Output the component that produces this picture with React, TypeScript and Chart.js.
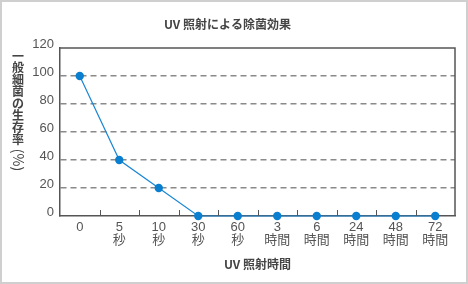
import React, { useEffect, useRef } from "react";
import { Chart, registerables } from "chart.js";

Chart.register(...registerables);

const categories: string[][] = [
  ["0"],
  ["5", "秒"],
  ["10", "秒"],
  ["30", "秒"],
  ["60", "秒"],
  ["3", "時間"],
  ["6", "時間"],
  ["24", "時間"],
  ["48", "時間"],
  ["72", "時間"],
];
const survivalRate: number[] = [100, 40, 20, 0, 0, 0, 0, 0, 0, 0];
const yTicks: number[] = [0, 20, 40, 60, 80, 100, 120];

const chartTitle = "UV 照射による除菌効果";
const xTitle = "UV 照射時間";
const yTitleUpright = "一般細菌の生存率";
const yTitleRotated = "(%)";

const FONT = "'Liberation Sans', 'Noto Sans CJK JP', sans-serif";
const CJK = "'Noto Sans CJK JP', 'Liberation Sans', sans-serif";

const decorPlugin = {
  id: "decor",
  beforeDraw(chart: any) {
    const { ctx, width, height } = chart;
    ctx.save();
    ctx.fillStyle = "#ffffff";
    ctx.fillRect(0, 0, width, height);
    ctx.strokeStyle = "#cfcfcf";
    ctx.lineWidth = 2;
    ctx.strokeRect(1, 1, width - 2, height - 2);
    ctx.restore();
  },
  afterDatasetsDraw(chart: any) {
    const { ctx, chartArea } = chart;
    const xs = chart.scales.x;
    ctx.save();
    ctx.strokeStyle = "#555555";
    ctx.lineWidth = 1.5;
    ctx.beginPath();
    ctx.moveTo(chartArea.left, chartArea.top);
    ctx.lineTo(chartArea.right, chartArea.top);
    ctx.lineTo(chartArea.right, chartArea.bottom);
    ctx.stroke();
    ctx.lineWidth = 1;
    ctx.beginPath();
    for (let i = 1; i < categories.length; i++) {
      const x = Math.round((xs.getPixelForValue(i - 1) + xs.getPixelForValue(i)) / 2) + 0.5;
      ctx.moveTo(x, chartArea.bottom);
      ctx.lineTo(x, chartArea.bottom - 6);
    }
    ctx.stroke();
    ctx.restore();
  },
  afterDraw(chart: any) {
    const { ctx } = chart;
    ctx.save();
    ctx.fillStyle = "#444444";
    ctx.font = `bold 12px ${CJK}`;
    ctx.textAlign = "center";
    ctx.textBaseline = "middle";
    const cx = 18;
    let y = 56;
    for (const ch of Array.from(yTitleUpright)) {
      ctx.fillText(ch, cx, y);
      y += 11.9;
    }
    ctx.translate(cx, 160);
    ctx.rotate(Math.PI / 2);
    ctx.font = `14px ${CJK}`;
    ctx.fillText(yTitleRotated, 0, 0);
    ctx.restore();
  },
};

export default function App() {
  const ref = useRef<HTMLCanvasElement | null>(null);
  useEffect(() => {
    document.body.style.margin = "0";
    if (!ref.current) return;
    const chart = new Chart(ref.current, {
      type: "line",
      data: {
        labels: categories,
        datasets: [
          {
            data: survivalRate,
            borderColor: "#1a86d4",
            backgroundColor: "#0a7fd0",
            borderWidth: 1.2,
            pointRadius: 4.2,
            pointBorderWidth: 0,
            pointBackgroundColor: "#0a7fd0",
            tension: 0,
            clip: false as any,
          },
        ],
      },
      options: {
        responsive: false,
        animation: false,
        layout: { padding: { left: 0, right: 13, top: 0, bottom: 0 } },
        plugins: {
          legend: { display: false },
          tooltip: { enabled: false },
          title: {
            display: true,
            text: chartTitle,
            color: "#444444",
            font: { family: CJK, size: 12, weight: "bold", lineHeight: 1.2 },
            padding: { top: 17, bottom: 16.6 },
          },
        },
        scales: {
          x: {
            type: "category",
            offset: true,
            grid: { display: false, drawTicks: false },
            border: { display: true, color: "#555555", width: 1.5 },
            ticks: {
              color: "#555555",
              padding: 5,
              maxRotation: 0,
              autoSkip: false,
              font: { family: FONT, size: 13, lineHeight: 1.02 },
            },
            title: {
              display: true,
              text: xTitle,
              color: "#444444",
              font: { family: CJK, size: 12, weight: "bold", lineHeight: 1.2 },
              padding: { top: 0, bottom: 12.8 },
            },
            afterFit(scale: any) {
              scale.height = 68;
            },
          },
          y: {
            min: 0,
            max: 120,
            afterBuildTicks(scale: any) {
              scale.ticks = yTicks.map((v) => ({ value: v }));
            },
            grid: {
              drawTicks: false,
              color: (c: any) =>
                c.tick && (c.tick.value === 0 || c.tick.value === 120) ? "rgba(0,0,0,0)" : "#8a8a8a",
              lineWidth: 1.5,
            },
            border: { display: true, color: "#555555", width: 1.5, dash: [6, 4] },
            ticks: {
              color: "#555555",
              padding: 6,
              labelOffset: -4,
              font: { family: FONT, size: 13 },
            },
            afterFit(scale: any) {
              scale.width = 60;
            },
          },
        },
      },
      plugins: [decorPlugin],
    });
    return () => chart.destroy();
  }, []);
  return <canvas ref={ref} width={468} height={284} style={{ display: "block" }} />;
}
